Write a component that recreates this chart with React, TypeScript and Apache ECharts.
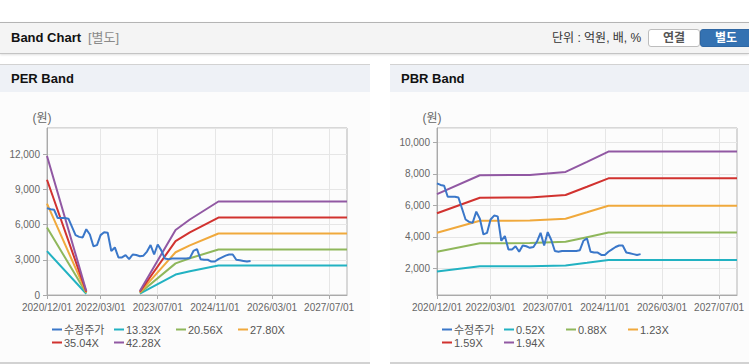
import React, { useEffect, useRef } from "react";
import * as echarts from "echarts";

const FONT = "'Liberation Sans', Arial, 'Noto Sans CJK KR', sans-serif";

// monthly categories 2020/12/01 .. 2027/12/01
const START_YEAR = 2020;
const START_MONTH = 12;
const MONTH_COUNT = 85;
const MONTHS: string[] = [];
for (let i = 0; i < MONTH_COUNT; i++) {
  const t = START_MONTH - 1 + i;
  const y = START_YEAR + Math.floor(t / 12);
  const m = (t % 12) + 1;
  MONTHS.push(`${y}/${String(m).padStart(2, "0")}/01`);
}

const TICK_LABELS = ["2020/12/01", "2022/03/01", "2023/07/01", "2024/11/01", "2026/03/01", "2027/07/01"];

// adjusted price, monthly from 2020/12
const PRICE = [
  7400, 7300, 7250, 6550, 6550, 6550, 6500, 5800, 5100, 4950,
  4900, 5600, 5150, 4150, 4250, 5100, 5350, 5300, 3750, 4050,
  3200, 3200, 3400, 3050, 3450, 3400, 3300, 3350, 3700, 4250,
  3450, 4300, 3800, 3100, 3050, 3100, 3100, 3100, 3100, 3100,
  3150, 3750, 3900, 3050, 3000, 3000, 2850, 2850, 3050, 3200,
  3350, 3450, 3450, 3000, 2950, 2900, 2850, 2900,
];

// PER band
const PER_NAMES = ["13.32X", "20.56X", "27.80X", "35.04X", "42.28X"];
const PER_DATES = ["2020/12/01", "2021/11/01", "2022/06/01", "2023/02/01", "2023/12/01", "2024/04/01", "2024/12/01", "2027/12/01"];
const PER_13 = [3730, 107, null, 107, 1745, 2025, 2508, 2508];
const PER_20 = [5757, 164, null, 164, 2693, 3125, 3871, 3871];
const PER_27 = [7784, 222, null, 222, 3642, 4226, 5235, 5235];
const PER_35 = [9811, 280, null, 280, 4590, 5326, 6598, 6598];
const PER_42 = [11838, 338, null, 338, 5539, 6427, 7961, 7961];

// PBR band
const PBR_NAMES = ["0.52X", "0.88X", "1.23X", "1.59X", "1.94X"];
const PBR_DATES = ["2020/12/01", "2021/12/01", "2023/02/01", "2023/12/01", "2024/06/01", "2024/12/01", "2027/12/01"];
const PBR_052 = [1799, 2122, 2127, 2179, 2350, 2525, 2525];
const PBR_088 = [3045, 3590, 3599, 3687, 3978, 4272, 4272];
const PBR_123 = [4256, 5018, 5031, 5154, 5560, 5972, 5972];
const PBR_159 = [5501, 6487, 6503, 6662, 7187, 7719, 7719];
const PBR_194 = [6712, 7915, 7935, 8129, 8769, 9419, 9419];

const PRICE_COLOR = "#3a77c9";
const BAND_COLORS = ["#22b2c2", "#8fb75b", "#f0a93c", "#d1322f", "#9158a3"];

const isTick = (_i: number, v: string) => TICK_LABELS.includes(v);

function makeOption(
  bandNames: string[],
  dates: string[],
  bands: (number | null)[][],
  yMin: number,
  yMax: number,
  step: number
) {
  const series: any[] = bands.map((vals, k) => ({
    name: bandNames[k],
    type: "line",
    data: dates.map((d, i) => [d, vals[i] == null ? "-" : vals[i]]),
    showSymbol: false,
    symbol: "none",
    lineStyle: { width: 2, color: BAND_COLORS[k] },
    itemStyle: { color: BAND_COLORS[k] },
    z: 2,
  }));
  series.unshift({
    name: "수정주가",
    type: "line",
    data: PRICE,
    showSymbol: false,
    symbol: "none",
    lineStyle: { width: 2, color: PRICE_COLOR },
    itemStyle: { color: PRICE_COLOR },
    z: 3,
  });
  return {
    animation: false,
    textStyle: { fontFamily: FONT },
    grid: {
      left: 47,
      top: 36,
      width: 300,
      height: 167,
      show: true,
      borderColor: "#b4b4b4",
      borderWidth: 1,
      backgroundColor: "transparent",
    },
    legend: {
      left: 52,
      top: 231,
      width: 265,
      padding: 0,
      itemGap: 0,
      itemWidth: 10,
      itemHeight: 2,
      icon: "rect",
      data: ["수정주가", ...bandNames],
      textStyle: {
        fontSize: 11,
        color: "#555",
        fontFamily: FONT,
        width: 50,
        lineHeight: 13,
        padding: [0, 0, 0, -3],
      },
    },
    xAxis: {
      type: "category",
      data: MONTHS,
      boundaryGap: false,
      axisLine: { lineStyle: { color: "#aaa" } },
      axisTick: { show: true, length: 4, interval: isTick, lineStyle: { color: "#aaa" } },
      axisLabel: { interval: isTick, color: "#666", fontSize: 10, margin: 7, fontFamily: FONT },
      splitLine: { show: true, interval: isTick, lineStyle: { color: "#e6e6e6" } },
    },
    yAxis: {
      type: "value",
      min: yMin,
      max: yMax,
      minInterval: step,
      maxInterval: step,
      name: "(원)",
      nameLocation: "end",
      nameGap: 10,
      nameTextStyle: {
        color: "#666",
        fontSize: 12,
        align: "center",
        verticalAlign: "middle",
        padding: [0, 10, 0, 0],
        fontFamily: FONT,
      },
      axisLine: { show: true, lineStyle: { color: "#aaa" } },
      axisTick: { show: true, length: 4, lineStyle: { color: "#aaa" } },
      axisLabel: {
        color: "#666",
        fontSize: 10,
        margin: 7,
        fontFamily: FONT,
        showMinLabel: yMin % step === 0,
        showMaxLabel: false,
        formatter: (v: number) => (v % step === 0 ? v.toLocaleString("en-US") : ""),
      },
      splitLine: { show: true, lineStyle: { color: "#e6e6e6" } },
    },
    series,
  };
}

const PER_OPTION = makeOption(PER_NAMES, PER_DATES, [PER_13, PER_20, PER_27, PER_35, PER_42], 0, 14220, 3000);
const PBR_OPTION = makeOption(PBR_NAMES, PBR_DATES, [PBR_052, PBR_088, PBR_123, PBR_159, PBR_194], 300, 10920, 2000);

function Chart({ option, style }: { option: any; style: React.CSSProperties }) {
  const ref = useRef<HTMLDivElement>(null);
  useEffect(() => {
    const chart = echarts.init(ref.current!, null, { renderer: "svg" });
    chart.setOption(option);
    return () => chart.dispose();
  }, [option]);
  return <div ref={ref} style={style} />;
}

function Panel({ left, width, title, option }: { left: number; width: number; title: string; option: any }) {
  return (
    <div
      style={{
        position: "absolute",
        left,
        top: 64,
        width,
        height: 297,
        background: "#fcfcfc",
        borderTop: "1px solid #d2d2d2",
        borderBottom: "2px solid #d2d2d2",
      }}
    >
      <div style={{ position: "absolute", left: 0, top: 0, width, height: 27, background: "#eef1f6" }}>
        <span
          style={{
            position: "absolute",
            left: 11,
            top: 6,
            fontSize: 13,
            lineHeight: "16px",
            fontWeight: "bold",
            color: "#111",
            whiteSpace: "nowrap",
          }}
        >
          {title}
        </span>
      </div>
      <Chart option={option} style={{ position: "absolute", left: 0, top: 27, width, height: 270 }} />
    </div>
  );
}

export default function App() {
  const btn: React.CSSProperties = {
    position: "absolute",
    top: 6,
    width: 52,
    height: 18,
    boxSizing: "border-box",
    fontSize: 12,
    fontWeight: "bold",
    lineHeight: "16px",
    textAlign: "center",
    borderRadius: 3,
  };
  return (
    <div
      style={{
        position: "absolute",
        left: 0,
        top: 0,
        width: 749,
        height: 364,
        background: "#fff",
        overflow: "hidden",
        fontFamily: FONT,
      }}
    >
      <div
        style={{
          position: "absolute",
          left: 0,
          top: 22,
          width: 749,
          height: 30,
          background: "#f4f4f4",
          borderTop: "1px solid #b4b4b4",
          borderBottom: "1px solid #c4c4c4",
          boxShadow: "0 1px 2px rgba(0,0,0,0.12)",
        }}
      >
        <span style={{ position: "absolute", left: 11, top: 7, fontSize: 13, lineHeight: "16px", fontWeight: "bold", color: "#111", whiteSpace: "nowrap" }}>
          Band Chart
        </span>
        <span style={{ position: "absolute", left: 88, top: 7, fontSize: 13, lineHeight: "16px", color: "#8a8a8a", whiteSpace: "nowrap" }}>
          [별도]
        </span>
        <span style={{ position: "absolute", left: 552, top: 7, fontSize: 12, lineHeight: "16px", color: "#333", whiteSpace: "nowrap" }}>
          단위 : 억원, 배, %
        </span>
        <div style={{ ...btn, left: 648, background: "#fff", border: "1px solid #bdbdbd", color: "#555" }}>연결</div>
        <div style={{ ...btn, left: 700, background: "#3472b2", border: "1px solid #2f67a3", color: "#fff" }}>별도</div>
      </div>
      <Panel left={0} width={370} title="PER Band" option={PER_OPTION} />
      <Panel left={390} width={359} title="PBR Band" option={PBR_OPTION} />
    </div>
  );
}
